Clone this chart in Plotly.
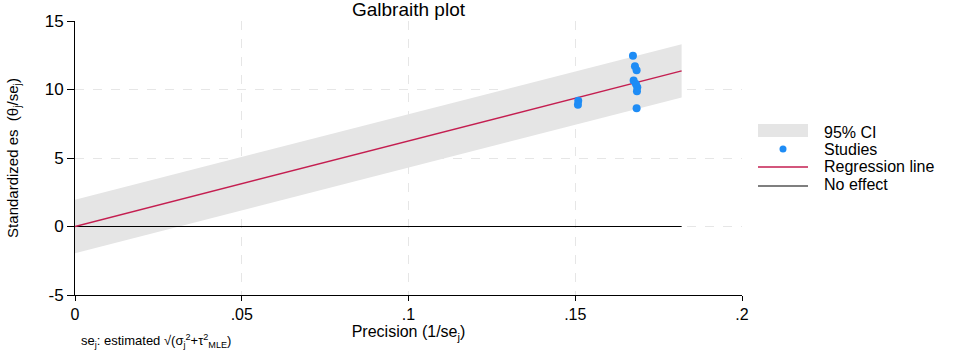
import plotly.graph_objects as go

# ---- data ----
study_precision = [0.1673, 0.1679, 0.1684, 0.1675, 0.1682, 0.1686, 0.1685, 0.1684, 0.1509, 0.1508]
study_std_es = [12.46, 11.70, 11.40, 10.66, 10.40, 10.17, 9.88, 8.64, 9.17, 8.88]

line_x = [0.0, 0.1819]
reg_y = [0.0, 11.36]
ci_upper = [1.96, 13.30]
ci_lower = [-1.96, 9.42]
noeffect_y = [0.0, 0.0]

x_tickvals = [0, 0.05, 0.1, 0.15, 0.2]
x_ticktext = ["0", ".05", ".1", ".15", ".2"]
y_tickvals = [-5, 0, 5, 10, 15]
y_ticktext = ["-5", "0", "5", "10", "15"]

legend_labels = ["95% CI", "Studies", "Regression line", "No effect"]

FONT = "Liberation Sans, Arial, Helvetica, sans-serif"
BAND = "#E5E5E5"
REG = "#C41E50"
DOT = "#1E8CF5"

W, H = 972, 351
L, R, T, B = 75, 230, 21, 56
PW, PH = W - L - R, H - T - B


def px(xp):
    return (xp - L) / PW


def py(yp):
    return (H - B - yp) / PH


fig = go.Figure()

fig.add_trace(go.Scatter(
    x=line_x + line_x[::-1], y=ci_upper + ci_lower[::-1],
    fill="toself", fillcolor=BAND, line=dict(width=0, color=BAND),
    mode="lines", name=legend_labels[0], hoverinfo="skip",
))
fig.add_trace(go.Scatter(
    x=line_x, y=noeffect_y, mode="lines",
    line=dict(color="black", width=1.2), name=legend_labels[3],
))
fig.add_trace(go.Scatter(
    x=line_x, y=reg_y, mode="lines",
    line=dict(color=REG, width=1.4), name=legend_labels[2],
))
fig.add_trace(go.Scatter(
    x=study_precision, y=study_std_es, mode="markers",
    marker=dict(color=DOT, size=8), name=legend_labels[1],
))

# manual legend (keys + real text)
shapes = [
    dict(type="rect", xref="paper", yref="paper", x0=px(758), x1=px(808), y0=py(137), y1=py(124),
         fillcolor=BAND, line=dict(width=0), layer="above"),
    dict(type="circle", xref="paper", yref="paper", x0=px(779.5), x1=px(786.5), y0=py(152.5), y1=py(145.5),
         fillcolor=DOT, line=dict(width=0), layer="above"),
    dict(type="line", xref="paper", yref="paper", x0=px(758), x1=px(808), y0=py(167), y1=py(167),
         line=dict(color=REG, width=1.4), layer="above"),
    dict(type="line", xref="paper", yref="paper", x0=px(758), x1=px(808), y0=py(186), y1=py(186),
         line=dict(color="black", width=1.2), layer="above"),
]
legend_y = [132, 149, 166, 185]
annotations = [
    dict(text=lab, xref="paper", yref="paper", x=px(822), y=py(yy), xanchor="left", yanchor="middle",
         showarrow=False, font=dict(size=16, color="black"))
    for lab, yy in zip(legend_labels, legend_y)
]
annotations.append(dict(
    text="se<sub>j</sub>: estimated √(σ<sub>j</sub><sup>2</sup>+τ<sup>2</sup><sub>MLE</sub>)",
    xref="paper", yref="paper", x=px(79), y=py(341), xanchor="left", yanchor="middle",
    showarrow=False, font=dict(size=13, color="black"),
))

fig.update_layout(
    width=W, height=H,
    margin=dict(l=L, r=R, t=T, b=B, autoexpand=False),
    paper_bgcolor="white", plot_bgcolor="white",
    font=dict(family=FONT, color="black", size=15),
    title=dict(text="Galbraith plot", x=(L + L + PW) / 2 / W, xanchor="center",
               y=1 - 3 / H, yanchor="top", yref="container",
               font=dict(size=19, color="black")),
    showlegend=False,
    shapes=shapes,
    annotations=annotations,
    xaxis=dict(
        range=[0, 0.2], tickvals=x_tickvals, ticktext=x_ticktext,
        showline=True, linecolor="black", linewidth=1,
        ticks="outside", ticklen=5, tickcolor="black",
        showgrid=True, gridcolor="#E6E6E6", griddash="dash", gridwidth=1,
        zeroline=False, tickfont=dict(size=16), automargin=False,
        title=dict(text="Precision (1/se<sub>j</sub>)", font=dict(size=16), standoff=2),
    ),
    yaxis=dict(
        range=[-5, 15], tickvals=y_tickvals, ticktext=y_ticktext,
        showline=True, linecolor="black", linewidth=1,
        ticks="outside", ticklen=7, tickcolor="black",
        showgrid=True, gridcolor="#E6E6E6", griddash="dash", gridwidth=1,
        zeroline=False, tickfont=dict(size=17), automargin=False,
        title=dict(text="Standardized es  (θ<sub>j</sub>/se<sub>j</sub>)", font=dict(size=15), standoff=22),
    ),
)

fig.write_html("out.html", config={"displayModeBar": False},
               post_script="document.body.style.margin='0';document.body.style.overflow='hidden';")
